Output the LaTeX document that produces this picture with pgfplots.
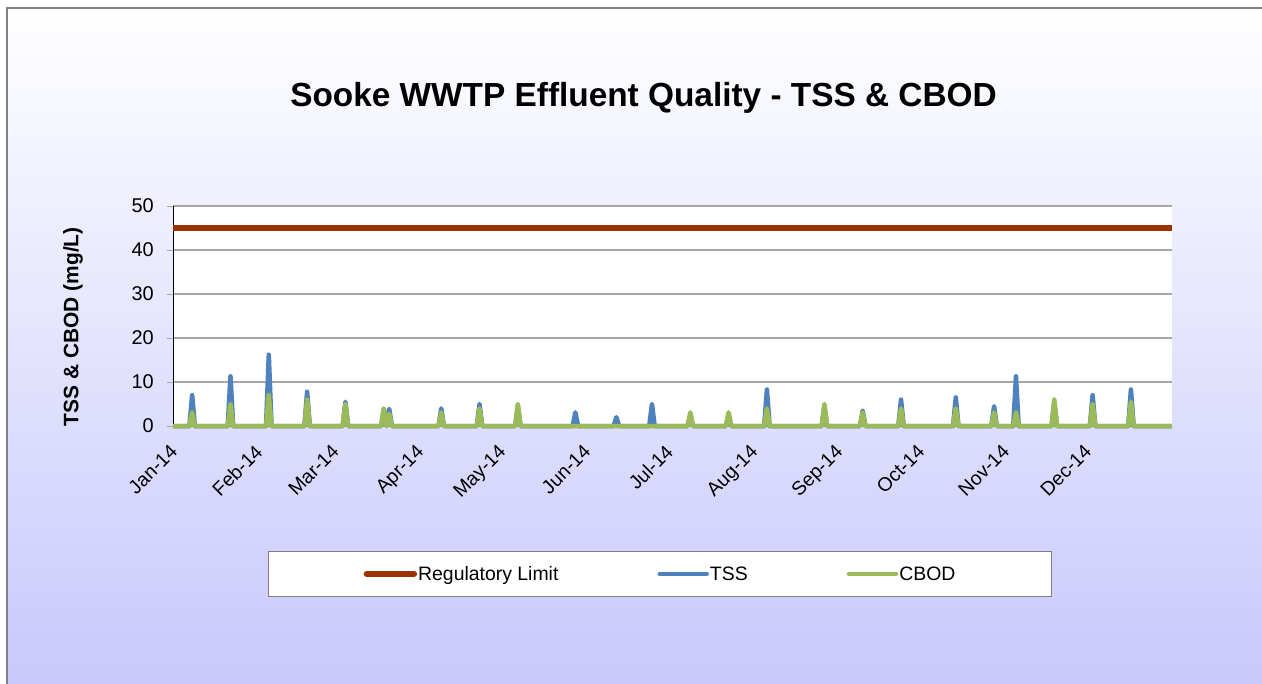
\documentclass[border=0pt]{standalone}
\usepackage{pgfplots}
\pgfplotsset{compat=1.18}
\usepackage{fontspec}
\setmainfont{Liberation Sans}
\definecolor{regred}{RGB}{153,51,0}
\definecolor{tssblue}{RGB}{79,129,189}
\definecolor{cbodgreen}{RGB}{155,187,89}
\definecolor{bgbot}{RGB}{200,200,252}
\definecolor{gridgray}{RGB}{166,166,166}
\definecolor{framegray}{RGB}{128,128,128}
\begin{document}
\begin{tikzpicture}
\useasboundingbox (0bp,0bp) rectangle (1262bp,-684bp);
\shade[top color=white,bottom color=bgbot] (7bp,-8bp) rectangle (1262bp,-684bp);
\draw[framegray,line width=1.5bp] (7bp,-684bp) -- (7bp,-8bp) -- (1262bp,-8bp);
\begin{axis}[
  at={(173bp,-426bp)}, anchor=south west,
  scale only axis, width=999bp, height=220bp,
  xmin=0, xmax=365, ymin=0, ymax=50,
  clip=false,
  axis x line*=bottom, axis y line*=left,
  x axis line style={-, draw=gridgray, line width=1bp},
  y axis line style={-, draw=black, line width=1bp},
  axis background/.style={fill=white},
  ytick={0,10,20,30,40,50},
  ymajorgrids, major grid style={draw=gridgray, line width=1.3bp},
  tick align=outside, major tick length=6bp,
  ytick style={draw=gridgray, line width=1bp},
  xtick style={draw=none},
  xtick={0,31,59,90,120,151,181,212,243,273,304,334},
  xticklabels={Jan-14,Feb-14,Mar-14,Apr-14,May-14,Jun-14,Jul-14,Aug-14,Sep-14,Oct-14,Nov-14,Dec-14},
  x tick label style={font=\fontsize{19.5}{23}\selectfont, xshift=-4bp, yshift=-11.3bp, rotate=45, anchor=north east, inner sep=0pt},
  y tick label style={font=\fontsize{20}{24}\selectfont, anchor=east, inner sep=0pt, xshift=-13bp},
  /pgf/number format/assume math mode=true,
  ylabel={TSS \& CBOD (mg/L)},
  ylabel style={font=\bfseries\fontsize{21}{24}\selectfont, at={(axis description cs:-0.1001,0.4514)}, anchor=center, rotate=0},
  title={Sooke WWTP Effluent Quality - TSS \& CBOD},
  title style={font=\bfseries\fontsize{33.5}{40}\selectfont, at={(axis description cs:0.471,1.4273)}, anchor=base, yshift=0pt},
  legend columns=3,
  legend cell align=left,
  legend image code/.code={\draw[#1, line cap=round] (3bp,0bp) -- (50bp,0bp);},
  legend style={at={(axis description cs:0.4875,-0.6727)}, anchor=center,
    draw=framegray, line width=1bp, fill=white,
    inner xsep=95bp, inner ysep=13.5bp,
    font=\fontsize{19.5}{22}\selectfont,
    nodes={inner sep=1bp},
    /tikz/every odd column/.append style={column sep=0bp},
    /tikz/every even column/.append style={column sep=98bp}},
]
\addplot[regred, line width=6.5bp] coordinates {(0,45) (365,45)};
\addlegendentry{Regulatory Limit}
\addplot[tssblue, line width=4.5bp, line join=round] coordinates {
(0,0) (6,0) (7,7.0) (8,0) (20,0) (21,11.3) (22,0) (34,0) (35,16.2) (36,0) (48,0) (49,7.8) (50,0) (62,0) (63,5.5) (64,0) (76,0) (77,3.5) (78,0) (79,3.9) (80,0) (97,0) (98,4.0) (99,0) (111,0) (112,5.0) (113,0) (125,0) (126,4.5) (127,0) (146,0) (147,3.1) (148,0) (161,0) (162,2.0) (163,0) (174,0) (175,5.0) (176,0) (188,0) (189,2.5) (190,0) (202,0) (203,2.5) (204,0) (216,0) (217,8.3) (218,0) (237,0) (238,4.5) (239,0) (251,0) (252,3.5) (253,0) (265,0) (266,6.0) (267,0) (285,0) (286,6.5) (287,0) (299,0) (300,4.5) (301,0) (307,0) (308,11.3) (309,0) (321,0) (322,5.5) (323,0) (335,0) (336,7.0) (337,0) (349,0) (350,8.3) (351,0) (365,0)};
\addlegendentry{TSS}
\addplot[cbodgreen, line width=4.5bp, line join=round] coordinates {
(0,0) (6,0) (7,3.1) (8,0) (20,0) (21,5.0) (22,0) (34,0) (35,7.0) (36,0) (48,0) (49,6.0) (50,0) (62,0) (63,5.0) (64,0) (76,0) (77,4.0) (78,0) (79,2.8) (80,0) (97,0) (98,3.1) (99,0) (111,0) (112,4.0) (113,0) (125,0) (126,5.0) (127,0) (188,0) (189,3.1) (190,0) (202,0) (203,3.1) (204,0) (216,0) (217,4.0) (218,0) (237,0) (238,5.0) (239,0) (251,0) (252,3.1) (253,0) (265,0) (266,4.0) (267,0) (285,0) (286,4.0) (287,0) (299,0) (300,3.1) (301,0) (307,0) (308,3.1) (309,0) (321,0) (322,6.0) (323,0) (335,0) (336,5.0) (337,0) (349,0) (350,5.5) (351,0) (365,0)};
\addlegendentry{CBOD}
\end{axis}
\end{tikzpicture}
\end{document}
